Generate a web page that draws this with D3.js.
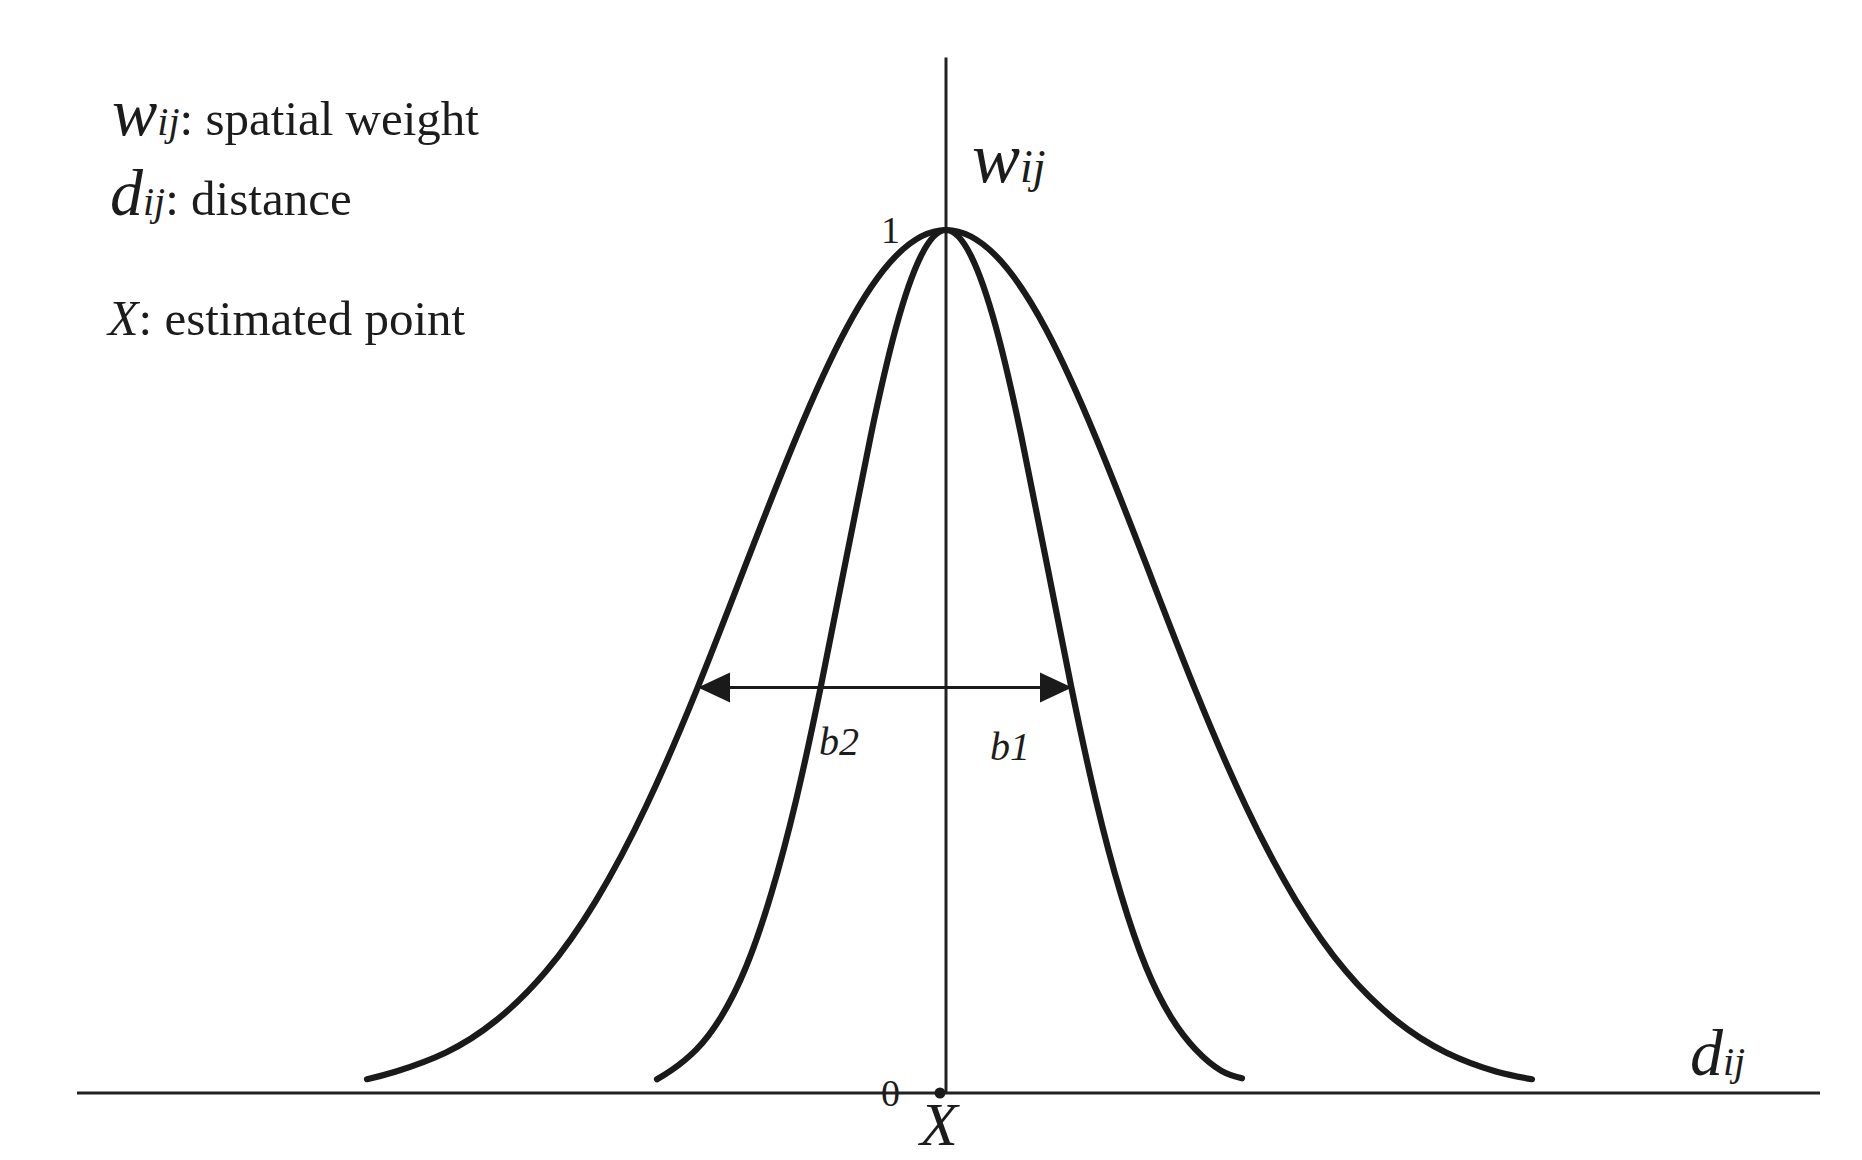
<!DOCTYPE html>
<html>
<head>
<meta charset="utf-8">
<script src="https://cdn.jsdelivr.net/npm/d3@7/dist/d3.min.js"></script>
<style>
  html, body { margin: 0; padding: 0; background: #fff; }
  svg { display: block; }
  text { font-family: "Liberation Serif", "Times New Roman", serif; fill: #1c1c1c; }
</style>
</head>
<body>
<svg id="chart" width="1862" height="1160"></svg>
<script>
// ---- data ----
// wide kernel (bandwidth b2): distance d_ij vs weight w_ij
const wideDist   = [-5.79, -5.5, -5.0, -4.5, -4.0, -3.5, -3.0, -2.5, -2.0, -1.5, -1.0, -0.5, 0, 0.5, 1.0, 1.5, 2.0, 2.5, 3.0, 3.5, 4.0, 4.5, 5.0, 5.5, 5.86];
const wideWeight = [0.016, 0.025, 0.047, 0.084, 0.141, 0.223, 0.332, 0.465, 0.613, 0.759, 0.885, 0.970, 1, 0.970, 0.885, 0.759, 0.613, 0.465, 0.332, 0.223, 0.141, 0.084, 0.047, 0.025, 0.016];
// narrow kernel (bandwidth b1)
const narrowDist   = [-2.89, -2.75, -2.5, -2.25, -2.0, -1.75, -1.5, -1.25, -1.0, -0.75, -0.5, -0.25, 0, 0.25, 0.5, 0.75, 1.0, 1.25, 1.5, 1.75, 2.0, 2.25, 2.5, 2.75, 2.96];
const narrowWeight = [0.016, 0.026, 0.050, 0.088, 0.146, 0.230, 0.339, 0.472, 0.618, 0.763, 0.887, 0.970, 1, 0.970, 0.887, 0.763, 0.618, 0.472, 0.339, 0.230, 0.146, 0.088, 0.050, 0.026, 0.017];
// y tick labels
const yTickValues = [0, 1];
const yTickLabels = ["0", "1"];
// bandwidth arrow: weight level and its two ends (distance)
const arrowLevel = [0.47];
const arrowEnds = [-2.48, 1.26];
const bandLabels = ["b2", "b1"];
const bandLabelDist = [-1.27, 0.44];
// axis extents
const xExtent = [-8.69, 8.74];
const yAxisTop = [1.2];

// ---- scales ----
const svg = d3.select("#chart");
const x = d3.scaleLinear().domain(xExtent).range([77, 1820]);
const y = d3.scaleLinear().domain([0, 1]).range([1093, 230]);

const ink = "#1a1a1a";

// axes lines
svg.append("line")
  .attr("x1", x(xExtent[0])).attr("x2", x(xExtent[1]))
  .attr("y1", y(0)).attr("y2", y(0))
  .attr("stroke", "#222").attr("stroke-width", 3);
svg.append("line")
  .attr("x1", x(0)).attr("x2", x(0))
  .attr("y1", y(0)).attr("y2", y(yAxisTop[0]))
  .attr("stroke", "#222").attr("stroke-width", 3);

// y tick labels via d3 axis
const yAxis = d3.axisLeft(y)
  .tickValues(yTickValues)
  .tickFormat((d, i) => yTickLabels[i])
  .tickSize(0)
  .tickPadding(46);
const gy = svg.append("g").attr("transform", `translate(${x(0)},0)`).call(yAxis);
gy.select(".domain").remove();
gy.selectAll("text")
  .attr("font-family", "Liberation Serif, serif")
  .attr("font-size", 38)
  .attr("fill", "#333");

// curves
const line = d3.line()
  .x(d => x(d[0]))
  .y(d => y(d[1]))
  .curve(d3.curveNatural);

[[wideDist, wideWeight], [narrowDist, narrowWeight]].forEach(([ds, ws]) => {
  svg.append("path")
    .datum(ds.map((d, i) => [d, ws[i]]))
    .attr("d", line)
    .attr("fill", "none")
    .attr("stroke", ink)
    .attr("stroke-width", 6.2)
    .attr("stroke-linecap", "round")
    .attr("stroke-linejoin", "round");
});

// estimated point marker
svg.append("circle")
  .attr("cx", x(0) - 6).attr("cy", y(0)).attr("r", 5.5)
  .attr("fill", ink);

// bandwidth arrow
const ay = y(arrowLevel[0]);
const ax0 = x(arrowEnds[0]), ax1 = x(arrowEnds[1]);
const headLen = 32, headHalf = 15;
svg.append("line")
  .attr("x1", ax0 + headLen - 2).attr("x2", ax1 - headLen + 2)
  .attr("y1", ay).attr("y2", ay)
  .attr("stroke", ink).attr("stroke-width", 3);
svg.append("path")
  .attr("d", `M${ax0},${ay} L${ax0 + headLen},${ay - headHalf} L${ax0 + headLen},${ay + headHalf} Z`)
  .attr("fill", ink);
svg.append("path")
  .attr("d", `M${ax1},${ay} L${ax1 - headLen},${ay - headHalf} L${ax1 - headLen},${ay + headHalf} Z`)
  .attr("fill", ink);

// b labels
svg.selectAll("text.band")
  .data(bandLabels)
  .join("text")
  .attr("class", "band")
  .attr("x", (d, i) => x(bandLabelDist[i]))
  .attr("y", (d, i) => ay + (i === 0 ? 68 : 73))
  .attr("font-size", 40)
  .attr("font-style", "italic")
  .attr("fill", "#333")
  .text(d => d);

// axis titles
const wLabel = svg.append("text").attr("x", x(0) + 26).attr("y", 182);
wLabel.append("tspan").attr("font-size", 72).attr("font-style", "italic").text("w");
wLabel.append("tspan").attr("font-size", 46).attr("font-style", "italic").text("ij");

const dLabel = svg.append("text").attr("x", 1690).attr("y", y(0) - 18);
dLabel.append("tspan").attr("font-size", 66).attr("font-style", "italic").text("d");
dLabel.append("tspan").attr("font-size", 40).attr("font-style", "italic").text("ij");

svg.append("text")
  .attr("x", x(0) - 7).attr("y", 1145)
  .attr("text-anchor", "middle")
  .attr("font-size", 62).attr("font-style", "italic")
  .text("X");

// legend notes
const notes = [
  { big: "w", bigSize: 68, sub: "ij", rest: ": spatial weight", x: 112, y: 135 },
  { big: "d", bigSize: 66, sub: "ij", rest: ": distance", x: 110, y: 215 },
  { big: "X", bigSize: 50, sub: "", rest: ": estimated point", x: 108, y: 335 }
];
notes.forEach(n => {
  const t = svg.append("text").attr("x", n.x).attr("y", n.y);
  t.append("tspan").attr("font-size", n.bigSize).attr("font-style", "italic").text(n.big);
  if (n.sub) t.append("tspan").attr("font-size", 40).attr("font-style", "italic").text(n.sub);
  t.append("tspan").attr("font-size", 49).text(n.rest);
});
</script>
</body>
</html>
